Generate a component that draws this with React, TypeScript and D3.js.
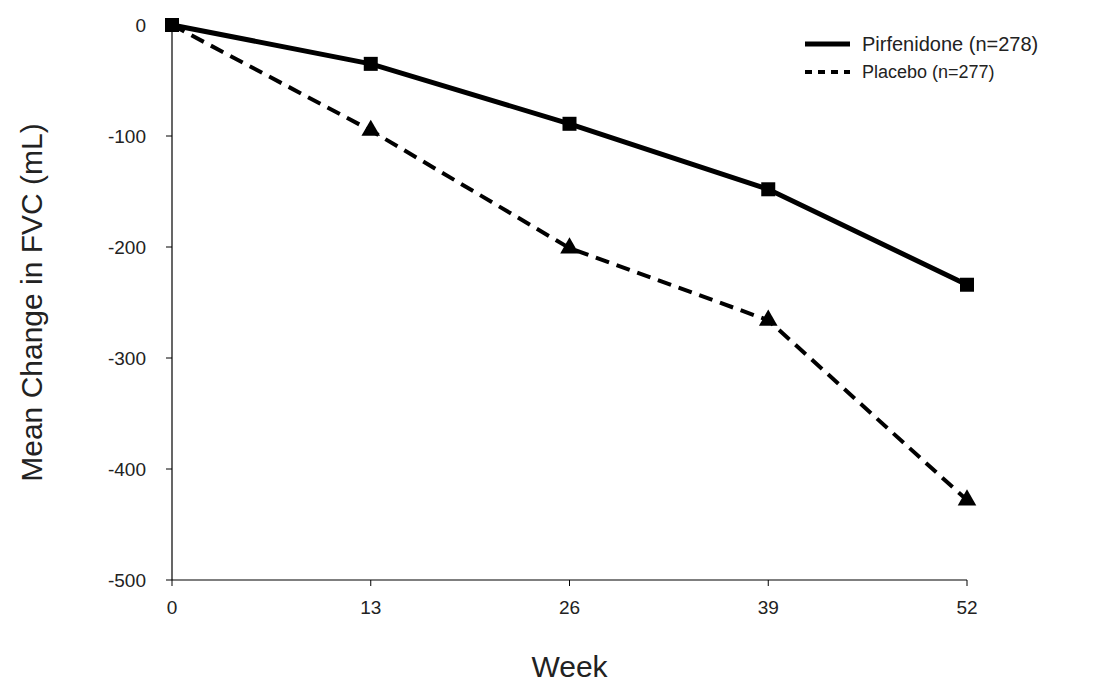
import React from "react";
import * as d3 from "d3";

const weeks = [0, 13, 26, 39, 52];
const pirfenidone = [0, -35, -89, -148, -234];
const placebo = [0, -95, -201, -266, -428];
const yTicks = [0, -100, -200, -300, -400, -500];
const seriesNames = ["Pirfenidone (n=278)", "Placebo (n=277)"];

export default function App() {
  const x = d3.scaleLinear().domain([0, 52]).range([172, 967]);
  const y = d3.scaleLinear().domain([0, -500]).range([25, 580]);
  const line = d3.line<number>().x((_, i) => x(weeks[i])).y((v) => y(v));
  const font = "Arial, 'Liberation Sans', sans-serif";
  return (
    <svg width={1093} height={686} style={{ position: "absolute", left: 0, top: 0, background: "#fff" }} fontFamily={font}>
      <line x1={172} x2={172} y1={y(0)} y2={y(-500)} stroke="#000" strokeWidth={1.2} />
      <line x1={172} x2={x(52)} y1={y(-500)} y2={y(-500)} stroke="#000" strokeWidth={1.2} />
      {yTicks.map((t) => (
        <g key={t}>
          <line x1={166} x2={172} y1={y(t)} y2={y(t)} stroke="#000" />
          <text x={146} y={y(t)} dy="0.35em" textAnchor="end" fontSize={19} fill="#222">{t}</text>
        </g>
      ))}
      {weeks.map((w) => (
        <g key={w}>
          <line x1={x(w)} x2={x(w)} y1={580} y2={586} stroke="#000" />
          <text x={x(w)} y={614} textAnchor="middle" fontSize={19} fill="#222">{w}</text>
        </g>
      ))}
      <text x={x(26)} y={677} textAnchor="middle" fontSize={30} fill="#222">Week</text>
      <text transform={`translate(42,${y(-250)}) rotate(-90)`} textAnchor="middle" fontSize={30} fill="#222">Mean Change in FVC (mL)</text>
      <path d={line(placebo)!} fill="none" stroke="#000" strokeWidth={4} strokeDasharray="14,8" />
      <path d={line(pirfenidone)!} fill="none" stroke="#000" strokeWidth={5} />
      {pirfenidone.map((v, i) => (
        <rect key={i} x={x(weeks[i]) - 7} y={y(v) - 7} width={14} height={14} fill="#000" />
      ))}
      {placebo.map((v, i) => i === 0 ? null : (
        <path key={i} d={d3.symbol(d3.symbolTriangle, 150)()!} transform={`translate(${x(weeks[i])},${y(v)})`} fill="#000" />
      ))}
      <line x1={805} x2={850} y1={44} y2={44} stroke="#000" strokeWidth={5} />
      <text x={862} y={44} dy="0.35em" fontSize={20} fill="#222">{seriesNames[0]}</text>
      <line x1={805} x2={850} y1={72} y2={72} stroke="#000" strokeWidth={4} strokeDasharray="7,6" />
      <text x={862} y={72} dy="0.35em" fontSize={18} fill="#222">{seriesNames[1]}</text>
    </svg>
  );
}
